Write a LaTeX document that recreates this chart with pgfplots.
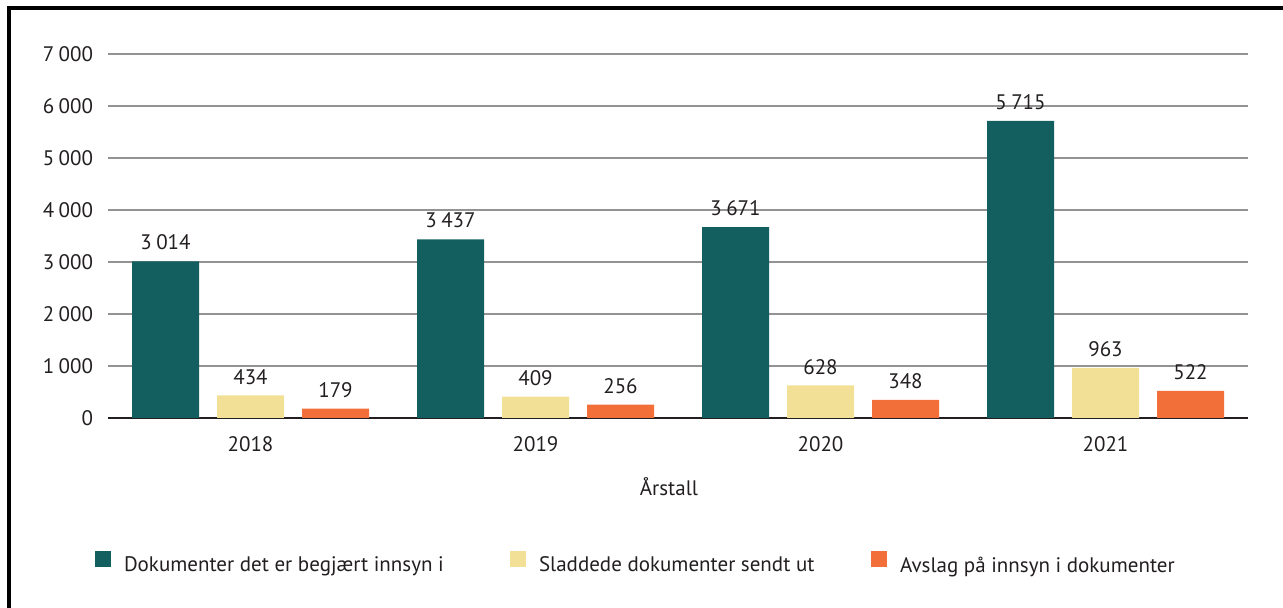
\documentclass[border=0pt]{standalone}
\usepackage{pgfplots}
\pgfplotsset{compat=1.18}
\usepackage{fontspec}
\setmainfont{PT Sans}
\definecolor{cteal}{HTML}{135F5F}
\definecolor{cyell}{HTML}{F1E096}
\definecolor{corng}{HTML}{F26F3A}
\definecolor{ctext}{HTML}{231F20}
\begin{document}
\begin{tikzpicture}[font=\fontsize{10.5bp}{13bp}\selectfont, text=ctext]
\useasboundingbox (0,0) rectangle (641.5bp,304bp);
\draw[line width=1.6bp] (4.5bp,-2bp) -- (4.5bp,300bp) -- (650bp,300bp);
\begin{axis}[
  at={(54bp,95bp)}, anchor=south west,
  scale only axis, width=570bp, height=182bp,
  xmin=-0.5, xmax=3.5, ymin=0, ymax=7000,
  ybar, bar width=33.5bp,
  xtick=data, xticklabels={2018,2019,2020,2021},
  ytick={0,1000,...,7000},
  axis y line*=left,
  y axis line style={draw=none},
  axis x line*=bottom,
  x axis line style={line width=0.7bp, draw=ctext, -},
  major tick length=0pt,
  ymajorgrids, major grid style={line width=0.7bp, draw=gray!85},
  /pgf/number format/.cd, assume math mode=true, 1000 sep={\hspace{0.21em}}, fixed,
  /pgfplots/.cd,
  yticklabel style={xshift=-4bp},
  xticklabel style={yshift=-6bp},
  xlabel={Årstall},
  xlabel style={at={(axis description cs:0.4921,-0.1896)}, anchor=center},
  nodes near coords,
  every node near coord/.append style={yshift=2bp, text=ctext},
  legend columns=3,
  legend image code/.code={\fill[#1] (0bp,-0.5bp) rectangle (8bp,7.5bp);},
  legend style={at={(axis description cs:-0.0114,-0.3984)}, anchor=west, draw=none,
    inner sep=0pt, outer sep=0pt,
    /tikz/every even column/.append style={column sep=0bp},
    /tikz/every odd column/.append style={column sep=6.5bp},
    nodes={inner sep=0pt}},
]
\addplot[fill=cteal, draw=none, bar shift=-42.5bp] coordinates {(0,3014) (1,3437) (2,3671) (3,5715)};
\addlegendentry{\makebox[193bp][l]{Dokumenter det er begjært innsyn i}}
\addplot[fill=cyell, draw=none, bar shift=0bp] coordinates {(0,434) (1,409) (2,628) (3,963)};
\addlegendentry{\makebox[166bp][l]{Sladdede dokumenter sendt ut}}
\addplot[fill=corng, draw=none, bar shift=42.5bp] coordinates {(0,179) (1,256) (2,348) (3,522)};
\addlegendentry{Avslag på innsyn i dokumenter}
\end{axis}
\end{tikzpicture}
\end{document}
